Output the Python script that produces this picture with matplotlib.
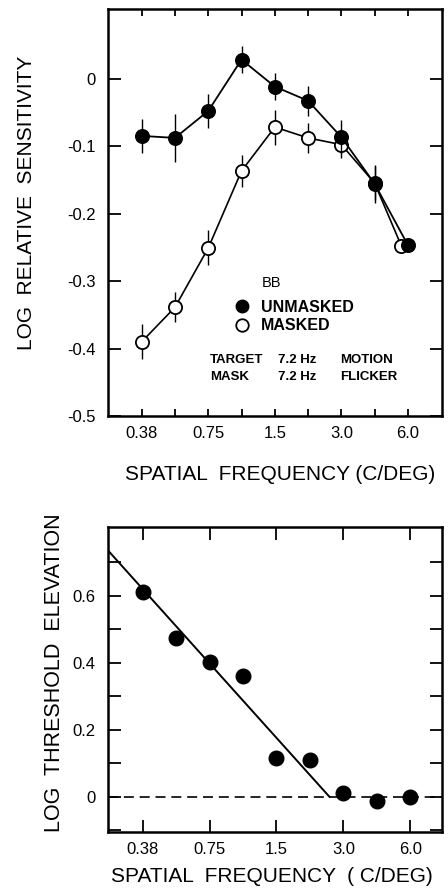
import matplotlib
matplotlib.use("Agg")
import matplotlib.pyplot as plt
from matplotlib.lines import Line2D
from matplotlib.ticker import FixedLocator, FixedFormatter, NullFormatter

plt.rcParams['font.family'] = ['Liberation Sans', 'DejaVu Sans']

# ---------------- data ----------------
freqs = [0.375, 0.53, 0.75, 1.06, 1.5, 2.12, 3.0, 4.24, 6.0]
freqs_masked = [0.375, 0.53, 0.75, 1.06, 1.5, 2.12, 3.0, 4.24, 5.6]
unmasked = [-0.085, -0.088, -0.048, 0.028, -0.012, -0.033, -0.087, -0.156, -0.247]
unmasked_err = [0.025, 0.035, 0.025, 0.02, 0.02, 0.022, 0.025, 0.028, 0.0]
masked = [-0.39, -0.339, -0.251, -0.137, -0.072, -0.088, -0.098, -0.155, -0.248]
masked_err = [0.026, 0.022, 0.026, 0.024, 0.026, 0.022, 0.02, 0.025, 0.0]

elev = [0.612, 0.475, 0.402, 0.362, 0.115, 0.11, 0.012, -0.012, 0.0]
fit_x = [0.262, 2.6]
fit_y = [0.736, 0.0]

xtick_major = [0.375, 0.75, 1.5, 3.0, 6.0]
xtick_labels = ['0.38', '0.75', '1.5', '3.0', '6.0']
ytick_top = [0, -0.1, -0.2, -0.3, -0.4, -0.5]
ytick_top_labels = ['0', '-0.1', '-0.2', '-0.3', '-0.4', '-0.5']
ytick_bot = [0, 0.2, 0.4, 0.6]
ytick_bot_labels = ['0', '0.2', '0.4', '0.6']
ytick_bot_minor = [-0.1, 0.1, 0.3, 0.5, 0.7]

# ---------------- figure ----------------
W, H = 448, 890
fig = plt.figure(figsize=(W / 100, H / 100), dpi=100)

def px(x0, y0, x1, y1):
    return [x0 / W, 1 - y1 / H, (x1 - x0) / W, (y1 - y0) / H]

ax1 = fig.add_axes(px(108, 9, 442, 416))
ax2 = fig.add_axes(px(108, 527, 442, 832))

tick_fs = 12
for ax in (ax1, ax2):
    ax.set_xscale('log', base=2)
    for s in ax.spines.values():
        s.set_linewidth(1.8)
    ax.tick_params(which='both', direction='in', top=True, right=True,
                   width=1.3, length=7, labelsize=tick_fs, pad=7)

# ---- top panel ----
ax1.errorbar(freqs_masked, masked, yerr=masked_err, fmt='-o', color='black',
             lw=1.2, elinewidth=1.0, capsize=0, ms=9.5, mfc='white', mec='black',
             mew=1.3, zorder=3)
ax1.errorbar(freqs, unmasked, yerr=unmasked_err, fmt='-o', color='black',
             lw=1.3, elinewidth=1.0, capsize=0, ms=9.5, mfc='black', mec='black',
             mew=1.3, zorder=4)
ax1.set_xlim(0.264, 8.55)
ax1.set_ylim(-0.5, 0.103)
ax1.xaxis.set_major_locator(FixedLocator(xtick_major))
ax1.xaxis.set_major_formatter(FixedFormatter(xtick_labels))
ax1.xaxis.set_minor_locator(FixedLocator([f for f in freqs if f not in xtick_major]))
ax1.xaxis.set_minor_formatter(NullFormatter())
ax1.tick_params(axis='x', which='both', length=5)
ax1.yaxis.set_major_locator(FixedLocator(ytick_top))
ax1.yaxis.set_major_formatter(FixedFormatter(ytick_top_labels))
ax1.tick_params(axis='y', length=9, pad=9)

handles = [Line2D([], [], marker='o', ls='none', ms=9, mfc='black', mec='black'),
           Line2D([], [], marker='o', ls='none', ms=9, mfc='white', mec='black', mew=1.3)]
leg = ax1.legend(handles, ['UNMASKED', 'MASKED'], loc='upper left',
                 bbox_to_anchor=(236 / W, 1 - 300 / H), bbox_transform=fig.transFigure,
                 frameon=False, prop={'size': 11.5, 'weight': 'bold'},
                 handlelength=0.8, handletextpad=0.75,
                 labelspacing=0.2, borderpad=0, borderaxespad=0)
fig.text(262 / W, 1 - 283 / H, 'BB', fontsize=10.5, va='center', ha='left')
for row_y, row in ((360, ('TARGET', '7.2 Hz', 'MOTION')),
                   (377, ('MASK', '7.2 Hz', 'FLICKER'))):
    for cx, t in zip((210, 278, 340), row):
        fig.text(cx / W, 1 - row_y / H, t, fontsize=9.5, weight='bold',
                 va='center', ha='left')

fig.text(27 / W, 1 - 203 / H, 'LOG  RELATIVE  SENSITIVITY', rotation=90,
         fontsize=15, ha='center', va='center')
fig.text(280 / W, 1 - 475 / H, 'SPATIAL  FREQUENCY (C/DEG)', fontsize=15,
         ha='center', va='center')

# ---- bottom panel ----
ax2.plot(freqs, elev, 'o', color='black', ms=10.5, zorder=4)
ax2.plot(fit_x, fit_y, '-', color='black', lw=1.4, zorder=3)
ax2.axhline(0, color='black', lw=1.2, dashes=(6, 3.5), zorder=2)
ax2.set_xlim(0.262, 8.34)
ax2.set_ylim(-0.105, 0.806)
ax2.xaxis.set_major_locator(FixedLocator(xtick_major))
ax2.xaxis.set_major_formatter(FixedFormatter(xtick_labels))
ax2.xaxis.set_minor_locator(FixedLocator([]))
ax2.yaxis.set_major_locator(FixedLocator(ytick_bot))
ax2.yaxis.set_major_formatter(FixedFormatter(ytick_bot_labels))
ax2.yaxis.set_minor_locator(FixedLocator(ytick_bot_minor))
ax2.yaxis.set_minor_formatter(NullFormatter())
ax2.tick_params(axis='both', which='both', length=9)
ax2.tick_params(axis='y', pad=9)

fig.text(55 / W, 1 - 673 / H, 'LOG  THRESHOLD  ELEVATION', rotation=90,
         fontsize=15.5, ha='center', va='center')
fig.text(272 / W, 1 - 877 / H, 'SPATIAL  FREQUENCY  ( C/DEG)', fontsize=15,
         ha='center', va='center')

fig.savefig('out.png', dpi=100)
